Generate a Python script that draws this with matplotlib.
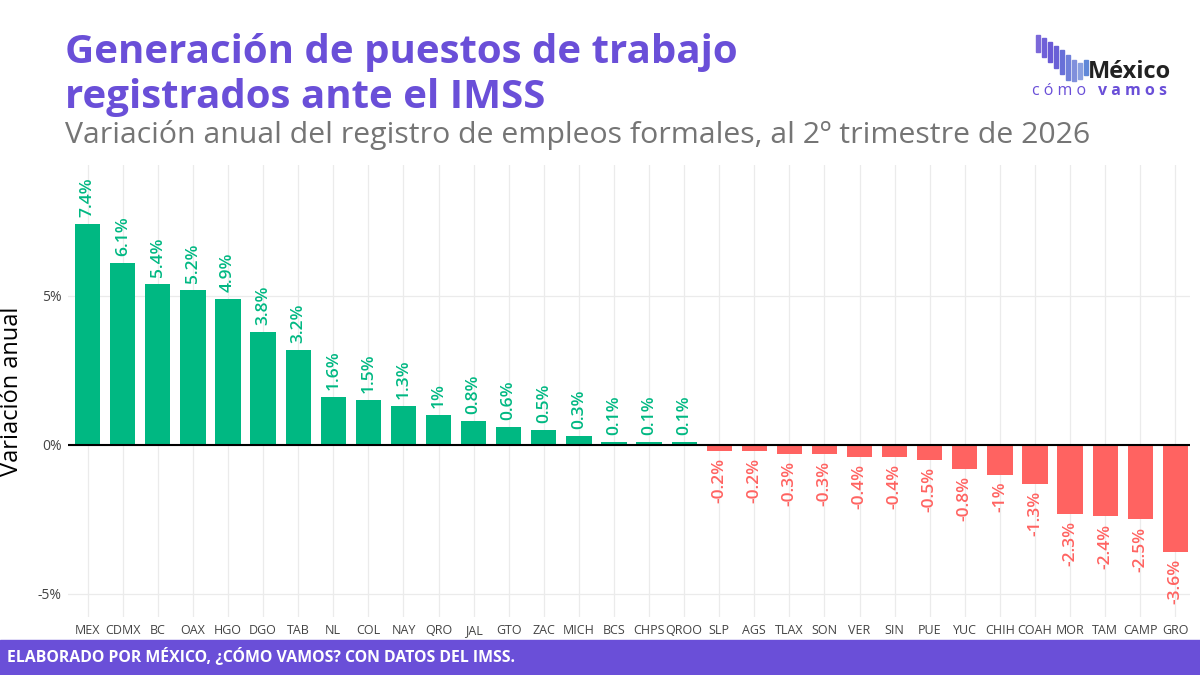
import matplotlib
matplotlib.use("Agg")
import matplotlib.pyplot as plt
from matplotlib.patches import Rectangle

plt.rcParams['font.family'] = ['Open Sans', 'DejaVu Sans']

states = ["MEX", "CDMX", "BC", "OAX", "HGO", "DGO", "TAB", "NL", "COL", "NAY", "QRO",
          "JAL", "GTO", "ZAC", "MICH", "BCS", "CHPS", "QROO", "SLP", "AGS", "TLAX", "SON",
          "VER", "SIN", "PUE", "YUC", "CHIH", "COAH", "MOR", "TAM", "CAMP", "GRO"]
values = [7.4, 6.1, 5.4, 5.2, 4.9, 3.8, 3.2, 1.6, 1.5, 1.3, 1.0,
          0.8, 0.6, 0.5, 0.3, 0.1, 0.1, 0.1, -0.2, -0.2, -0.3, -0.3,
          -0.4, -0.4, -0.5, -0.8, -1.0, -1.3, -2.3, -2.4, -2.5, -3.6]
yticks = [-5, 0, 5]
ytick_labels = ["-5%", "0%", "5%"]

GREEN = "#00B882"
RED = "#FF6361"
PURPLE = "#6A4FD8"

fig = plt.figure(figsize=(12, 6.75), dpi=100)
ax = fig.add_axes([0.057, 0.086, 0.935, 0.67])

x = list(range(len(states)))
colors = [GREEN if v >= 0 else RED for v in values]
ax.bar(x, values, width=0.72, color=colors, zorder=2)

for xi, v, c in zip(x, values, colors):
    lab = f"{v:g}%"
    if v >= 0:
        ax.annotate(lab, (xi, v), xytext=(0, 5), textcoords="offset points",
                    rotation=90, ha="center", va="bottom", color=c,
                    fontsize=12.5, fontweight="semibold")
    else:
        ax.annotate(lab, (xi, v), xytext=(0, -5), textcoords="offset points",
                    rotation=90, ha="center", va="top", color=c,
                    fontsize=12.5, fontweight="semibold")

ax.axhline(0, color="black", lw=1.5, zorder=3)
ax.set_xlim(-0.55, len(states) - 0.57)
ax.set_ylim(-5.77, 9.4)
ax.set_xticks(x)
ax.set_xticklabels(states, fontsize=9, color="#444444")
ax.set_yticks(yticks)
ax.set_yticklabels(ytick_labels, fontsize=10, color="#444444")
ax.tick_params(length=0, pad=5)
ax.grid(True, color="#EBEBEB", lw=0.9, zorder=0)
for s in ax.spines.values():
    s.set_visible(False)
ax.set_ylabel("Variación anual", fontsize=17, color="black", labelpad=10)

# Titles
fig.text(0.054, 0.922, "Generación de puestos de trabajo", fontsize=29,
         fontweight="bold", color=PURPLE, va="center", ha="left")
fig.text(0.054, 0.855, "registrados ante el IMSS", fontsize=29,
         fontweight="bold", color=PURPLE, va="center", ha="left")
fig.text(0.054, 0.800, "Variación anual del registro de empleos formales, al 2º trimestre de 2026",
         fontsize=21.8, color="#757575", va="center", ha="left")

# Footer
fig.patches.append(Rectangle((0, 0), 1, 0.052, transform=fig.transFigure,
                             color=PURPLE, zorder=0))
fig.text(0.006, 0.026, "ELABORADO POR MÉXICO, ¿CÓMO VAMOS? CON DATOS DEL IMSS.",
         fontsize=11.4, fontweight="bold", color="white", va="center", ha="left")

# Logo
bar_x = [1036, 1042, 1048, 1054, 1060, 1066, 1072, 1078, 1084]
bar_top = [35, 38, 42, 46, 50, 55, 60, 63, 60]
bar_bot = [52, 57, 62, 68, 74, 80, 81, 79, 75]
bar_col = ["#7B68D9", "#7060D8", "#6A5AD6", "#6A60D6", "#6870D8", "#7080DA", "#8090DC", "#8AA0E0", "#6088D8"]
for bx, bt, bb, bc in zip(bar_x, bar_top, bar_bot, bar_col):
    fig.patches.append(Rectangle((bx / 1200, 1 - bb / 675), 3.5 / 1200, (bb - bt) / 675,
                                 transform=fig.transFigure, color=bc))
fig.text(1088 / 1200, 1 - 72 / 675, "México", fontsize=17, fontweight="bold",
         color="#222222", va="center", ha="left")
fig.text(1032 / 1200, 1 - 91 / 675, "c ó m o", fontsize=11.5, color="#6A4FD8",
         va="center", ha="left")
fig.text(1098 / 1200, 1 - 91 / 675, "v a m o s", fontsize=11.5, fontweight="bold",
         color="#6A4FD8", va="center", ha="left")

fig.savefig("out.png", dpi=100)
